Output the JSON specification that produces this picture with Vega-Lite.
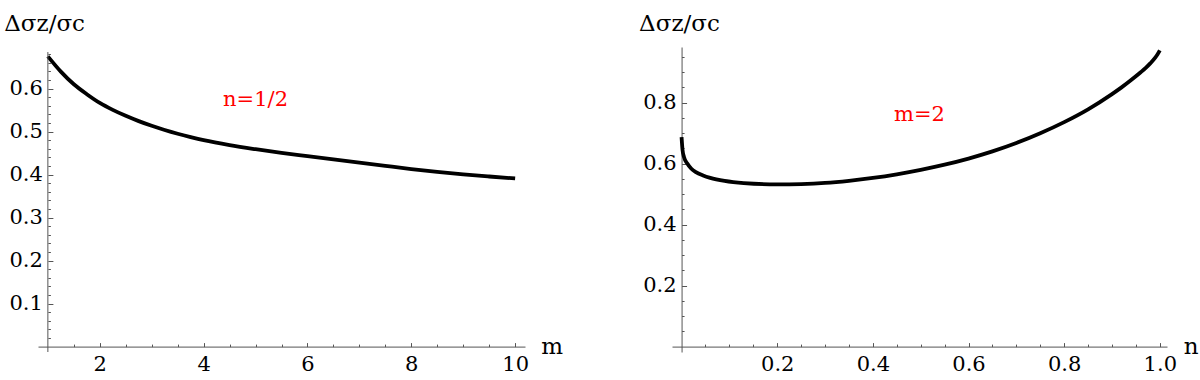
{
  "$schema": "https://vega.github.io/schema/vega-lite/v6.json",
  "padding": {"left": 3, "top": 12, "right": 0, "bottom": 0},
  "bounds": "flush",
  "spacing": 147,
  "config": {
    "view": {"stroke": null},
    "font": "DejaVu Serif",
    "axis": {
      "labelFont": "DejaVu Serif",
      "labelFontSize": 21,
      "labelColor": "black",
      "domainColor": "#555555",
      "tickColor": "#555555",
      "grid": false,
      "titleFont": "DejaVu Serif",
      "titleFontWeight": "normal",
      "titleColor": "black",
      "labelFlush": false,
      "labelOverlap": false
    }
  },
  "hconcat": [
    {
      "width": 487,
      "height": 305,
      "data": {"values": [
        {"m": 1.0, "v": 0.675}, {"m": 1.25, "v": 0.6395}, {"m": 1.5, "v": 0.610}, {"m": 1.75, "v": 0.587},
        {"m": 2.0, "v": 0.5667}, {"m": 2.25, "v": 0.5505}, {"m": 2.5, "v": 0.5366}, {"m": 2.75, "v": 0.5243},
        {"m": 3.0, "v": 0.5134}, {"m": 3.25, "v": 0.5037}, {"m": 3.5, "v": 0.495}, {"m": 3.75, "v": 0.4872},
        {"m": 4.0, "v": 0.480}, {"m": 4.5, "v": 0.4684}, {"m": 5.0, "v": 0.459}, {"m": 5.5, "v": 0.4506},
        {"m": 6.0, "v": 0.4429}, {"m": 6.5, "v": 0.4352}, {"m": 7.0, "v": 0.4276}, {"m": 7.5, "v": 0.4202},
        {"m": 8.0, "v": 0.4129}, {"m": 8.5, "v": 0.4062}, {"m": 9.0, "v": 0.4004}, {"m": 9.5, "v": 0.3955},
        {"m": 10.0, "v": 0.391}
      ]},
      "layer": [
        {
          "mark": {"type": "line", "color": "black", "strokeWidth": 3.8, "interpolate": "monotone", "strokeCap": "butt"},
          "encoding": {
            "x": {"field": "m", "type": "quantitative",
              "scale": {"domain": [0.81, 10.19], "nice": false, "zero": false},
              "axis": {"orient": "bottom", "offset": -5.4, "values": [2, 4, 6, 8, 10], "tickSize": -4, "labelPadding": 11,
                "labelFont": "DejaVu Serif", "labelFontSize": 21,
                "title": "m", "titleAngle": 0, "titleX": 513.7, "titleY": 7, "titleAlign": "center", "titleBaseline": "alphabetic", "titleFontSize": 23}},
            "y": {"field": "v", "type": "quantitative",
              "scale": {"domain": [-0.0126, 0.6967], "nice": false, "zero": false},
              "axis": {"orient": "left", "offset": -9.9, "values": [0.1, 0.2, 0.3, 0.4, 0.5, 0.6], "format": ".1f", "tickSize": -5, "labelPadding": 10.5,
                "labelFont": "DejaVu Serif", "labelFontSize": 21,
                "domain": false,
                "title": "Δσz/σc", "titleAngle": 0, "titleX": -44.2, "titleY": -16.7, "titleAlign": "left", "titleBaseline": "alphabetic", "titleFontSize": 23}}
          }
        },
        {
          "mark": {"type": "line", "opacity": 0},
          "encoding": {
            "x": {"field": "m", "type": "quantitative",
              "axis": {"orient": "bottom", "offset": -5.4, "values": [1.5, 2.5, 3, 3.5, 4.5, 5, 5.5, 6.5, 7, 7.5, 8.5, 9, 9.5], "tickSize": -2.5, "labels": false, "domain": false, "title": null}},
            "y": {"field": "v", "type": "quantitative",
              "axis": {"orient": "left", "offset": -9.9, "values": [0.02, 0.04, 0.06, 0.08, 0.12, 0.14, 0.16, 0.18, 0.22, 0.24, 0.26, 0.28, 0.32, 0.34, 0.36, 0.38, 0.42, 0.44, 0.46, 0.48, 0.52, 0.54, 0.56, 0.58, 0.62, 0.64, 0.66, 0.68], "tickSize": -2.5, "labels": false, "domain": false, "title": null}}
          }
        },
        {
          "data": {"values": [{}]},
          "mark": {"type": "rule", "color": "#555555", "strokeWidth": 1},
          "encoding": {
            "x": {"datum": 1, "type": "quantitative", "axis": null},
            "y": {"datum": -0.0126, "type": "quantitative", "axis": null},
            "y2": {"datum": 0.685}
          }
        },
        {
          "data": {"values": [{}]},
          "mark": {"type": "text", "color": "#ff0000", "fontSize": 21, "font": "DejaVu Serif", "align": "center", "baseline": "middle"},
          "encoding": {
            "x": {"datum": 5.0, "type": "quantitative", "axis": null},
            "y": {"datum": 0.573, "type": "quantitative", "axis": null},
            "text": {"value": "n=1/2"}
          }
        }
      ],
      "resolve": {"axis": {"x": "independent", "y": "independent"}}
    },
    {
      "width": 495,
      "height": 305,
      "data": {"values": [
        {"n": 0.0, "v": 0.687}, {"n": 0.002, "v": 0.645}, {"n": 0.005, "v": 0.622}, {"n": 0.012, "v": 0.600},
        {"n": 0.02, "v": 0.584}, {"n": 0.03, "v": 0.572}, {"n": 0.045, "v": 0.561}, {"n": 0.06, "v": 0.553},
        {"n": 0.09, "v": 0.543}, {"n": 0.13, "v": 0.536}, {"n": 0.2, "v": 0.532}, {"n": 0.25, "v": 0.533},
        {"n": 0.3, "v": 0.5365}, {"n": 0.35, "v": 0.5435}, {"n": 0.4, "v": 0.553}, {"n": 0.45, "v": 0.565},
        {"n": 0.5, "v": 0.5795}, {"n": 0.55, "v": 0.5965}, {"n": 0.6, "v": 0.6165}, {"n": 0.65, "v": 0.640},
        {"n": 0.7, "v": 0.6675}, {"n": 0.75, "v": 0.6995}, {"n": 0.8, "v": 0.736}, {"n": 0.85, "v": 0.778},
        {"n": 0.9, "v": 0.828}, {"n": 0.92, "v": 0.850}, {"n": 0.94, "v": 0.874}, {"n": 0.96, "v": 0.8995},
        {"n": 0.97, "v": 0.913}, {"n": 0.98, "v": 0.9285}, {"n": 0.99, "v": 0.9465}, {"n": 0.995, "v": 0.9575},
        {"n": 1.0, "v": 0.971}
      ]},
      "layer": [
        {
          "mark": {"type": "line", "color": "black", "strokeWidth": 3.8, "interpolate": "monotone", "strokeCap": "butt"},
          "encoding": {
            "x": {"field": "n", "type": "quantitative",
              "scale": {"domain": [-0.02, 1.015], "nice": false, "zero": false},
              "axis": {"orient": "bottom", "offset": -5.4, "values": [0.2, 0.4, 0.6, 0.8, 1.0], "format": ".1f", "tickSize": -4, "labelPadding": 11,
                "labelFont": "DejaVu Serif", "labelFontSize": 21,
                "title": "n", "titleAngle": 0, "titleX": 518.6, "titleY": 7, "titleAlign": "center", "titleBaseline": "alphabetic", "titleFontSize": 23}},
            "y": {"field": "v", "type": "quantitative",
              "scale": {"domain": [-0.0177, 0.9823], "nice": false, "zero": false},
              "axis": {"orient": "left", "offset": -9.57, "values": [0.2, 0.4, 0.6, 0.8], "format": ".1f", "tickSize": -5, "labelPadding": 10.5,
                "labelFont": "DejaVu Serif", "labelFontSize": 21,
                "title": "Δσz/σc", "titleAngle": 0, "titleX": -43, "titleY": -16.7, "titleAlign": "left", "titleBaseline": "alphabetic", "titleFontSize": 23}}
          }
        },
        {
          "mark": {"type": "line", "opacity": 0},
          "encoding": {
            "x": {"field": "n", "type": "quantitative",
              "axis": {"orient": "bottom", "offset": -5.4, "values": [0.05, 0.1, 0.15, 0.25, 0.3, 0.35, 0.45, 0.5, 0.55, 0.65, 0.7, 0.75, 0.85, 0.9, 0.95], "tickSize": -2.5, "labels": false, "domain": false, "title": null}},
            "y": {"field": "v", "type": "quantitative",
              "axis": {"orient": "left", "offset": -9.57, "values": [0.05, 0.1, 0.15, 0.25, 0.3, 0.35, 0.45, 0.5, 0.55, 0.65, 0.7, 0.75, 0.85, 0.9, 0.95], "tickSize": -2.5, "labels": false, "domain": false, "title": null}}
          }
        },
        {
          "data": {"values": [{}]},
          "mark": {"type": "text", "color": "#ff0000", "fontSize": 21, "font": "DejaVu Serif", "align": "center", "baseline": "middle"},
          "encoding": {
            "x": {"datum": 0.4976, "type": "quantitative", "axis": null},
            "y": {"datum": 0.758, "type": "quantitative", "axis": null},
            "text": {"value": "m=2"}
          }
        }
      ],
      "resolve": {"axis": {"x": "independent", "y": "independent"}}
    }
  ]
}
